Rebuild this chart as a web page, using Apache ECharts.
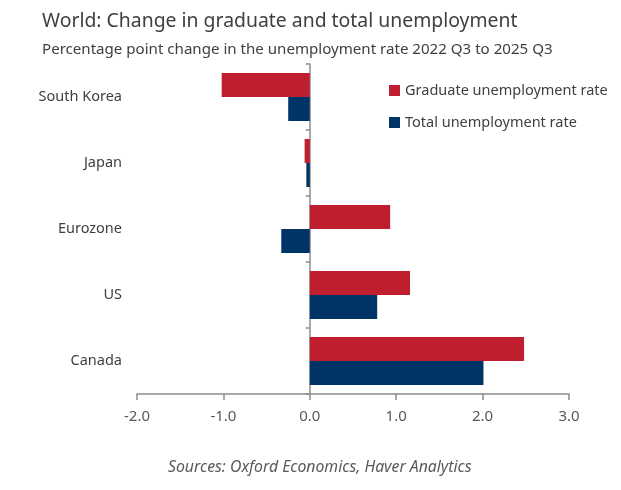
<!DOCTYPE html>
<html>
<head>
<meta charset="utf-8">
<script src="https://cdn.jsdelivr.net/npm/echarts@6/dist/echarts.min.js"></script>
<style>
  html, body { margin: 0; padding: 0; background: #fff; }
  #chart { width: 621px; height: 490px; }
</style>
</head>
<body>
<div id="chart"></div>
<script>
const countries = ['South Korea', 'Japan', 'Eurozone', 'US', 'Canada']
const graduate = [-1.02, -0.06, 0.93, 1.16, 2.48]
const total = [-0.25, -0.04, -0.33, 0.78, 2.01]
const seriesNames = ['Graduate unemployment rate', 'Total unemployment rate']

const font = 'Noto Sans'
const textColor = '#404040'
const axisColor = '#8c8c8c'

const chart = echarts.init(document.getElementById('chart'))

chart.setOption({
  animation: false,
  textStyle: { fontFamily: font },
  title: [
    {
      text: 'World: Change in graduate and total unemployment',
      left: 37,
      top: 7,
      textStyle: { fontSize: 19.4, fontWeight: 'normal', color: textColor, fontFamily: font }
    },
    {
      text: 'Percentage point change in the unemployment rate 2022 Q3 to 2025 Q3',
      left: 37,
      top: 37,
      textStyle: { fontSize: 15.1, fontWeight: 'normal', color: textColor, fontFamily: font }
    },
    {
      // source line
      text: 'Sources: Oxford Economics, Haver Analytics',
      left: 163,
      top: 454,
      textStyle: { fontSize: 15.8, fontWeight: 'normal', fontStyle: 'italic', color: '#595959', fontFamily: font }
    }
  ],
  legend: {
    orient: 'vertical',
    left: 384,
    top: 78,
    itemWidth: 11,
    itemHeight: 11,
    itemGap: 17,
    icon: 'rect',
    textStyle: { fontSize: 14.5, color: textColor, fontFamily: font },
    data: seriesNames
  },
  grid: {
    left: 137,
    right: 52,
    top: 64,
    bottom: 96,
    containLabel: false,
    outerBoundsMode: 'none'
  },
  xAxis: {
    type: 'value',
    min: -2,
    max: 3,
    interval: 1,
    axisLine: { show: true, lineStyle: { color: axisColor, width: 1.5 } },
    axisTick: { show: true, length: 6, lineStyle: { color: axisColor, width: 1.5 } },
    splitLine: { show: false },
    axisLabel: {
      margin: 15,
      fontSize: 15,
      color: '#595959',
      fontFamily: font,
      formatter: (v) => v.toFixed(1)
    }
  },
  yAxis: {
    type: 'category',
    inverse: true,
    data: countries,
    axisLine: { show: true, onZero: true, lineStyle: { color: axisColor, width: 1.5 } },
    axisTick: { show: true, length: 4, alignWithLabel: false, lineStyle: { color: axisColor, width: 1.5 } },
    axisLabel: { margin: 15, fontSize: 14.5, color: textColor, fontFamily: font }
  },
  series: [
    {
      name: seriesNames[0],
      type: 'bar',
      data: graduate,
      barWidth: 24,
      barGap: '0%',
      itemStyle: { color: '#BE1E2D' }
    },
    {
      name: seriesNames[1],
      type: 'bar',
      data: total,
      barWidth: 24,
      barGap: '0%',
      itemStyle: { color: '#003366' }
    }
  ]
})
</script>
</body>
</html>
